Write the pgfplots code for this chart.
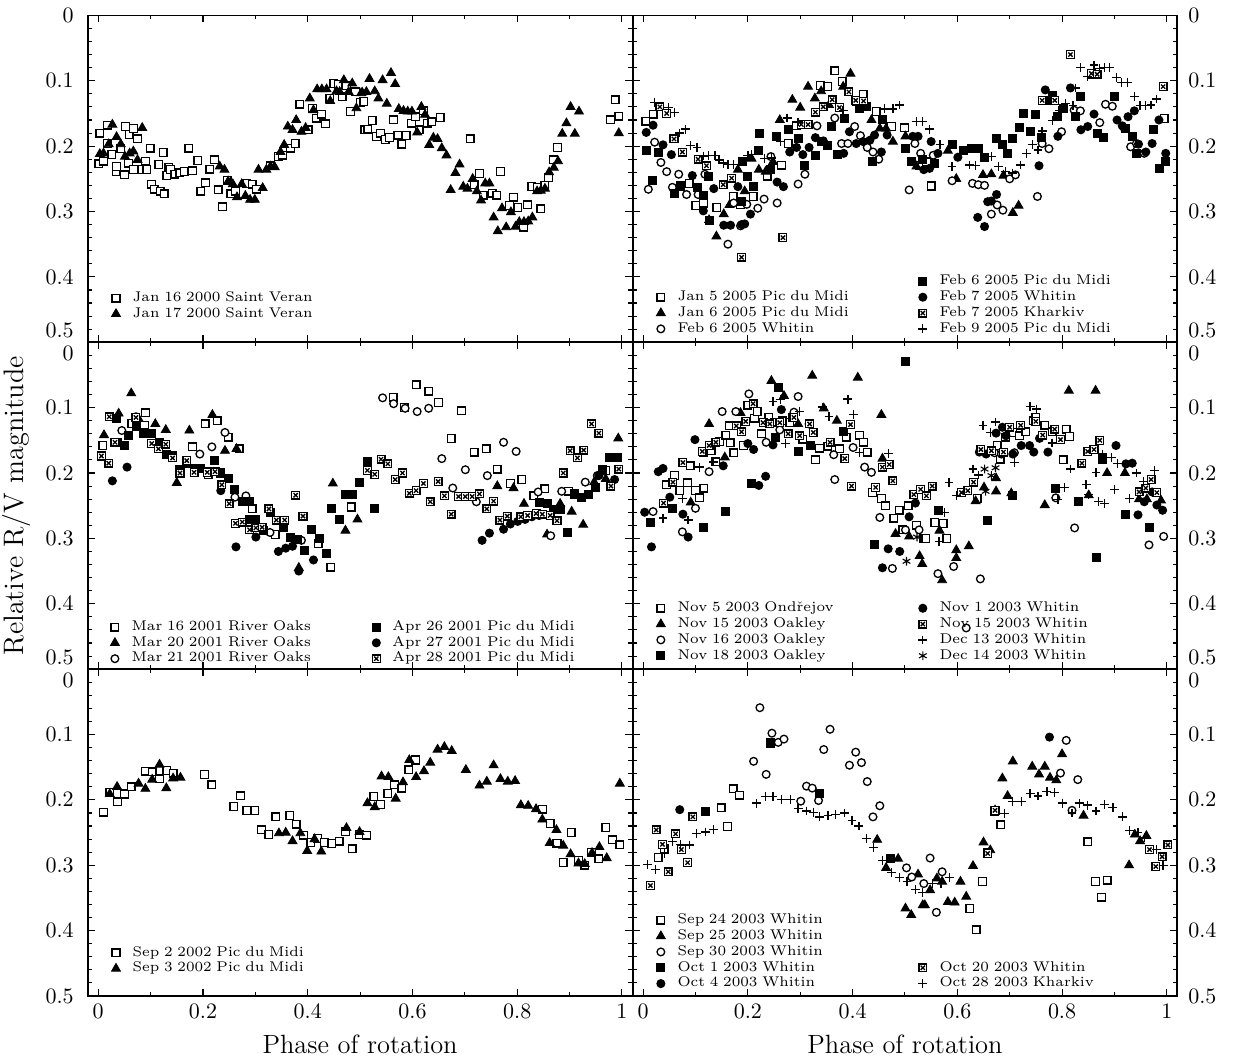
\documentclass[border=0pt]{standalone}
\usepackage{pgfplots}
\pgfplotsset{compat=1.18}
\pgfdeclareplotmark{boxx}{%
  \pgfpathrectangle{\pgfqpoint{-\pgfplotmarksize}{-\pgfplotmarksize}}{\pgfqpoint{2\pgfplotmarksize}{2\pgfplotmarksize}}%
  \pgfusepathqfillstroke
  \pgfpathmoveto{\pgfqpoint{-0.55\pgfplotmarksize}{-0.55\pgfplotmarksize}}%
  \pgfpathlineto{\pgfqpoint{0.55\pgfplotmarksize}{0.55\pgfplotmarksize}}%
  \pgfpathmoveto{\pgfqpoint{-0.55\pgfplotmarksize}{0.55\pgfplotmarksize}}%
  \pgfpathlineto{\pgfqpoint{0.55\pgfplotmarksize}{-0.55\pgfplotmarksize}}%
  \pgfusepathqstroke}
\pgfplotsset{
  mk/.style={only marks, black, mark size=1.75pt},
  sqo/.style={mk, mark=square*, mark options={fill=white, line width=0.6pt}},
  sqf/.style={mk, mark=square*, mark options={fill=black, line width=0.6pt}},
  tri/.style={mk, mark=triangle*, mark size=2.3pt, mark options={fill=black, line width=0.4pt}},
  cio/.style={mk, mark=*, mark options={fill=white, line width=0.6pt}},
  cif/.style={mk, mark=*, mark options={fill=black, line width=0.6pt}},
  bxx/.style={mk, mark=boxx, mark options={fill=white, line width=0.6pt}},
  pls/.style={mk, mark=+, mark size=2pt, mark options={line width=0.6pt}},
  ast/.style={mk, mark=asterisk, mark size=2pt, mark options={line width=0.5pt}},
  legend image code/.code={\draw[#1] plot coordinates {(0pt,0pt)};},
  panel/.style={scale only axis, width=247.6pt, height=148.6pt,
    xmin=-0.02, xmax=1.02, ymin=0, ymax=0.5, y dir=reverse,
    xtick={0,0.2,0.4,0.6,0.8,1}, minor x tick num=1,
    ytick={0,0.1,0.2,0.3,0.4,0.5}, minor y tick num=4,
    tick align=inside, major tick length=3.2pt, minor tick length=1.8pt,
    axis line style={line width=0.8pt},
    every tick/.style={black, line width=0.5pt},
    xticklabels={},
    legend cell align=left,
    legend style={draw=none, fill=none, inner sep=0pt, font=\fontsize{6.4}{7.2}\selectfont, anchor=south west, row sep=0.2pt,
      nodes={inner sep=1pt, text width=108.5pt, align=left, text height=4.0pt, text depth=1.0pt},
      /tikz/every odd column/.append style={column sep=4.6pt}}},
  leftp/.style={panel, yticklabel pos=left, yticklabel style={xshift=-2.9pt}},
  rightp/.style={panel, yticklabel pos=right, yticklabel style={xshift=1.5pt}},
  toprow/.style={yticklabels={0,0.1,0.2,0.3,0.4,{\raisebox{5.2pt}[\height][\depth]{0.5}}}},
  midrow/.style={yticklabels={{\raisebox{-5.2pt}[\height][\depth]{0}},0.1,0.2,0.3,0.4,{\raisebox{5.2pt}[\height][\depth]{0.5}}}},
  botrow/.style={yticklabels={{\raisebox{-5.2pt}[\height][\depth]{0}},0.1,0.2,0.3,0.4,0.5},
    xticklabels={0,0.2,0.4,0.6,0.8,1}, xlabel={Phase of rotation},
    xlabel style={font=\large, at={(axis description cs:0.5,-0.147)}, anchor=center}},
}
\begin{document}
\begin{tikzpicture}
\path[use as bounding box] (0,0) rectangle (561pt,480.5pt);
% ---------------- TOP LEFT
\begin{axis}[leftp, toprow, at={(39.9pt,324.9pt)}, anchor=south west,
  legend columns=1, legend style={at={(axis description cs:0.043,0.062)}}]
\addplot[sqo,forget plot] coordinates {(0.001,0.227)(0.003,0.180)(0.010,0.223)(0.018,0.168)(0.017,0.196)(0.026,0.213)(0.034,0.239)(0.035,0.231)(0.043,0.204)(0.050,0.244)(0.052,0.170)(0.058,0.226)(0.059,0.182)(0.067,0.236)(0.067,0.173)(0.075,0.189)(0.083,0.236)(0.090,0.223)(0.093,0.236)(0.099,0.203)(0.102,0.258)(0.107,0.266)(0.116,0.228)(0.118,0.269)(0.124,0.210)(0.126,0.273)(0.131,0.245)(0.135,0.232)(0.138,0.236)(0.146,0.243)(0.156,0.241)(0.164,0.239)(0.173,0.203)(0.180,0.238)(0.190,0.222)(0.196,0.269)(0.205,0.256)(0.213,0.235)(0.222,0.221)(0.229,0.267)(0.237,0.293)(0.246,0.252)(0.253,0.273)(0.262,0.269)(0.284,0.257)(0.294,0.258)(0.302,0.266)(0.328,0.230)(0.344,0.216)(0.352,0.214)(0.367,0.203)(0.376,0.196)(0.385,0.136)(0.401,0.175)(0.409,0.142)(0.416,0.157)(0.426,0.151)(0.434,0.166)(0.442,0.127)(0.450,0.104)(0.458,0.106)(0.466,0.124)(0.474,0.108)(0.482,0.147)(0.491,0.117)(0.500,0.133)(0.507,0.132)(0.509,0.175)(0.515,0.174)(0.523,0.161)(0.531,0.185)(0.539,0.180)(0.548,0.190)(0.556,0.187)(0.564,0.160)(0.572,0.183)(0.580,0.197)(0.588,0.184)(0.598,0.165)(0.606,0.155)(0.613,0.175)(0.621,0.146)(0.629,0.165)(0.637,0.163)(0.653,0.156)(0.710,0.189)(0.718,0.259)(0.728,0.242)(0.735,0.275)(0.752,0.272)(0.761,0.275)(0.768,0.239)(0.785,0.291)(0.793,0.278)(0.801,0.294)(0.812,0.324)(0.820,0.290)(0.828,0.262)(0.838,0.263)(0.845,0.296)(0.853,0.260)(0.860,0.248)(0.869,0.221)(0.877,0.202)(0.978,0.160)(0.987,0.129)(0.994,0.154)};
\addplot[tri,forget plot] coordinates {(0.003,0.212)(0.010,0.211)(0.020,0.197)(0.027,0.167)(0.035,0.186)(0.043,0.197)(0.051,0.216)(0.060,0.211)(0.067,0.208)(0.075,0.221)(0.084,0.172)(0.232,0.231)(0.241,0.236)(0.248,0.254)(0.257,0.258)(0.265,0.278)(0.274,0.258)(0.281,0.276)(0.290,0.282)(0.299,0.282)(0.306,0.236)(0.314,0.264)(0.321,0.236)(0.329,0.231)(0.337,0.232)(0.348,0.209)(0.355,0.198)(0.362,0.170)(0.371,0.175)(0.378,0.160)(0.388,0.178)(0.396,0.172)(0.404,0.127)(0.411,0.145)(0.418,0.113)(0.427,0.113)(0.436,0.113)(0.443,0.131)(0.455,0.116)(0.461,0.117)(0.469,0.099)(0.478,0.117)(0.485,0.104)(0.493,0.142)(0.502,0.119)(0.504,0.118)(0.512,0.117)(0.518,0.097)(0.528,0.116)(0.535,0.127)(0.543,0.099)(0.551,0.135)(0.559,0.088)(0.567,0.105)(0.574,0.143)(0.583,0.146)(0.591,0.147)(0.599,0.147)(0.609,0.179)(0.617,0.140)(0.624,0.152)(0.632,0.198)(0.640,0.187)(0.648,0.189)(0.656,0.203)(0.665,0.214)(0.673,0.267)(0.682,0.241)(0.690,0.228)(0.697,0.262)(0.705,0.265)(0.715,0.250)(0.723,0.269)(0.731,0.283)(0.739,0.257)(0.747,0.257)(0.755,0.309)(0.763,0.330)(0.771,0.295)(0.779,0.324)(0.788,0.301)(0.797,0.323)(0.804,0.316)(0.813,0.316)(0.821,0.315)(0.829,0.309)(0.838,0.269)(0.845,0.268)(0.853,0.265)(0.861,0.240)(0.870,0.233)(0.878,0.223)(0.886,0.181)(0.894,0.165)(0.902,0.140)(0.910,0.181)(0.918,0.147)(0.994,0.180)};
\addlegendimage{sqo}\addlegendentry{Jan 16 2000 Saint Veran}
\addlegendimage{tri}\addlegendentry{Jan 17 2000 Saint Veran}
\end{axis}
% ---------------- TOP RIGHT
\begin{axis}[rightp, toprow, at={(287.6pt,324.9pt)}, anchor=south west,
  legend columns=2, legend style={at={(axis description cs:0.043,0.016)}}]
\addplot[sqo,forget plot] coordinates {(0.005,0.162)(0.019,0.151)(0.088,0.257)(0.101,0.291)(0.115,0.287)(0.141,0.294)(0.172,0.277)(0.186,0.290)(0.210,0.277)(0.237,0.246)(0.264,0.229)(0.277,0.196)(0.293,0.169)(0.339,0.107)(0.353,0.109)(0.366,0.085)(0.380,0.101)(0.407,0.131)(0.420,0.121)(0.445,0.147)(0.474,0.170)(0.499,0.172)(0.528,0.229)(0.541,0.224)(0.550,0.261)(0.995,0.158)};
\addplot[tri,forget plot] coordinates {(0.126,0.313)(0.140,0.338)(0.154,0.304)(0.165,0.290)(0.181,0.236)(0.194,0.269)(0.207,0.219)(0.221,0.236)(0.234,0.239)(0.248,0.224)(0.261,0.160)(0.285,0.129)(0.300,0.141)(0.315,0.109)(0.328,0.127)(0.340,0.116)(0.355,0.137)(0.382,0.109)(0.396,0.089)(0.436,0.160)(0.452,0.173)(0.464,0.173)(0.477,0.193)(0.501,0.185)(0.522,0.231)(0.582,0.207)(0.598,0.250)(0.649,0.244)(0.665,0.243)(0.688,0.245)(0.706,0.302)(0.717,0.291)};
\addplot[cio,forget plot] coordinates {(0.010,0.266)(0.022,0.194)(0.034,0.225)(0.045,0.239)(0.056,0.263)(0.068,0.243)(0.083,0.274)(0.105,0.274)(0.118,0.243)(0.162,0.350)(0.173,0.287)(0.186,0.322)(0.198,0.289)(0.219,0.295)(0.231,0.281)(0.244,0.216)(0.256,0.287)(0.296,0.258)(0.309,0.243)(0.332,0.169)(0.366,0.157)(0.379,0.196)(0.391,0.196)(0.404,0.170)(0.415,0.184)(0.428,0.202)(0.439,0.209)(0.450,0.220)(0.508,0.267)(0.519,0.196)(0.530,0.211)(0.554,0.214)(0.590,0.253)(0.629,0.257)(0.640,0.259)(0.652,0.260)(0.665,0.304)(0.676,0.290)(0.687,0.298)(0.700,0.250)(0.711,0.244)(0.753,0.277)(0.762,0.196)(0.775,0.204)(0.799,0.178)(0.823,0.145)(0.835,0.146)(0.872,0.164)(0.883,0.136)(0.896,0.139)(0.919,0.173)(0.931,0.201)(0.942,0.196)(0.957,0.211)};
\addplot[sqf,forget plot] coordinates {(0.006,0.207)(0.018,0.253)(0.029,0.209)(0.060,0.273)(0.071,0.261)(0.103,0.264)(0.116,0.276)(0.124,0.246)(0.127,0.314)(0.188,0.284)(0.190,0.223)(0.200,0.246)(0.210,0.262)(0.221,0.207)(0.223,0.180)(0.244,0.236)(0.254,0.186)(0.277,0.174)(0.296,0.188)(0.309,0.229)(0.330,0.215)(0.340,0.193)(0.352,0.199)(0.359,0.170)(0.372,0.213)(0.385,0.157)(0.413,0.142)(0.427,0.139)(0.438,0.223)(0.458,0.160)(0.501,0.203)(0.512,0.224)(0.534,0.220)(0.557,0.227)(0.590,0.198)(0.611,0.207)(0.628,0.203)(0.641,0.203)(0.652,0.218)(0.675,0.189)(0.686,0.198)(0.695,0.212)(0.706,0.189)(0.718,0.172)(0.727,0.150)(0.740,0.177)(0.750,0.152)(0.760,0.187)(0.771,0.130)(0.781,0.123)(0.792,0.155)(0.802,0.142)(0.826,0.154)(0.835,0.124)(0.856,0.090)(0.868,0.180)(0.879,0.187)(0.900,0.124)(0.922,0.173)(0.934,0.185)(0.943,0.211)(0.975,0.175)(0.986,0.234)(0.998,0.224)};
\addplot[cif,forget plot] coordinates {(0.006,0.179)(0.019,0.168)(0.038,0.198)(0.054,0.213)(0.094,0.245)(0.115,0.299)(0.135,0.265)(0.154,0.321)(0.167,0.321)(0.181,0.262)(0.188,0.320)(0.194,0.319)(0.205,0.304)(0.256,0.255)(0.268,0.262)(0.280,0.209)(0.293,0.202)(0.305,0.213)(0.317,0.202)(0.329,0.187)(0.344,0.192)(0.383,0.211)(0.394,0.178)(0.407,0.196)(0.420,0.193)(0.433,0.191)(0.442,0.183)(0.455,0.209)(0.466,0.183)(0.515,0.185)(0.525,0.185)(0.536,0.236)(0.547,0.234)(0.550,0.193)(0.563,0.211)(0.601,0.217)(0.639,0.309)(0.652,0.323)(0.658,0.285)(0.665,0.284)(0.675,0.274)(0.756,0.230)(0.768,0.114)(0.792,0.185)(0.816,0.111)(0.836,0.175)(0.849,0.170)(0.861,0.151)(0.905,0.160)(0.915,0.169)(0.926,0.155)(0.938,0.146)(0.946,0.197)(0.960,0.209)(0.972,0.196)(0.985,0.160)(0.998,0.211)};
\addplot[bxx,forget plot] coordinates {(0.032,0.140)(0.045,0.150)(0.059,0.189)(0.075,0.209)(0.105,0.220)(0.121,0.230)(0.153,0.259)(0.169,0.249)(0.188,0.370)(0.267,0.340)(0.302,0.167)(0.315,0.167)(0.329,0.148)(0.344,0.140)(0.361,0.129)(0.375,0.141)(0.393,0.117)(0.406,0.130)(0.421,0.131)(0.762,0.130)(0.786,0.130)(0.816,0.060)(0.856,0.089)(0.867,0.090)(0.993,0.109)};
\addplot[pls,forget plot] coordinates {(0.022,0.133)(0.048,0.141)(0.060,0.149)(0.069,0.180)(0.081,0.174)(0.090,0.199)(0.103,0.202)(0.115,0.215)(0.125,0.214)(0.137,0.214)(0.145,0.221)(0.154,0.226)(0.162,0.228)(0.173,0.228)(0.200,0.214)(0.207,0.213)(0.232,0.219)(0.245,0.218)(0.262,0.193)(0.275,0.157)(0.296,0.163)(0.382,0.145)(0.461,0.143)(0.477,0.143)(0.490,0.137)(0.522,0.162)(0.533,0.162)(0.547,0.174)(0.567,0.198)(0.590,0.231)(0.623,0.229)(0.635,0.230)(0.665,0.216)(0.678,0.231)(0.692,0.239)(0.706,0.241)(0.720,0.229)(0.732,0.211)(0.743,0.198)(0.754,0.206)(0.762,0.177)(0.782,0.161)(0.794,0.146)(0.807,0.135)(0.821,0.138)(0.826,0.111)(0.835,0.080)(0.848,0.094)(0.861,0.076)(0.872,0.081)(0.881,0.080)(0.891,0.080)(0.904,0.095)(0.914,0.103)(0.925,0.103)(0.938,0.124)(0.949,0.138)(0.959,0.138)(0.970,0.137)(0.980,0.128)};
\addlegendimage{empty legend}\addlegendentry{}
\addlegendimage{sqf}\addlegendentry{Feb 6 2005 Pic du Midi}
\addlegendimage{sqo}\addlegendentry{Jan 5 2005 Pic du Midi}
\addlegendimage{cif}\addlegendentry{Feb 7 2005 Whitin}
\addlegendimage{tri}\addlegendentry{Jan 6 2005 Pic du Midi}
\addlegendimage{bxx}\addlegendentry{Feb 7 2005 Kharkiv}
\addlegendimage{cio}\addlegendentry{Feb 6 2005 Whitin}
\addlegendimage{pls}\addlegendentry{Feb 9 2005 Pic du Midi}
\end{axis}
% ---------------- MIDDLE LEFT
\begin{axis}[leftp, midrow, at={(39.9pt,176.3pt)}, anchor=south west,
  ylabel={Relative R/V magnitude}, ylabel style={font=\fontsize{12.8}{15}\selectfont, at={(axis description cs:-0.130,0.5)}, anchor=center},
  legend columns=2, legend style={at={(axis description cs:0.041,0.007)}}]
\addplot[sqo,forget plot] coordinates {(0.009,0.158)(0.036,0.153)(0.064,0.124)(0.088,0.127)(0.090,0.108)(0.158,0.200)(0.180,0.160)(0.204,0.125)(0.210,0.203)(0.227,0.120)(0.248,0.145)(0.269,0.163)(0.294,0.255)(0.338,0.294)(0.420,0.308)(0.444,0.344)(0.483,0.252)(0.563,0.084)(0.584,0.100)(0.607,0.065)(0.631,0.075)(0.650,0.092)(0.674,0.147)(0.694,0.105)(0.718,0.168)(0.741,0.163)(0.762,0.194)(0.787,0.216)(0.809,0.210)(0.832,0.235)(0.853,0.224)(0.898,0.228)(0.909,0.232)(0.923,0.238)(0.969,0.196)(0.993,0.194)};
\addplot[tri,forget plot] coordinates {(0.011,0.142)(0.039,0.109)(0.063,0.078)(0.077,0.117)(0.109,0.125)(0.129,0.134)(0.150,0.215)(0.174,0.135)(0.218,0.111)(0.242,0.166)(0.264,0.163)(0.383,0.345)(0.448,0.216)(0.472,0.288)(0.495,0.271)(0.762,0.220)(0.793,0.223)(0.813,0.247)(0.857,0.294)(0.882,0.247)(0.904,0.259)(0.926,0.279)(0.947,0.214)(0.969,0.209)(0.993,0.147)};
\addplot[cio,forget plot] coordinates {(0.045,0.135)(0.072,0.114)(0.194,0.171)(0.217,0.160)(0.242,0.138)(0.261,0.237)(0.282,0.235)(0.328,0.291)(0.388,0.303)(0.543,0.085)(0.564,0.094)(0.586,0.101)(0.609,0.106)(0.631,0.101)(0.656,0.178)(0.677,0.223)(0.701,0.195)(0.722,0.244)(0.743,0.204)(0.774,0.153)(0.798,0.167)(0.840,0.229)(0.864,0.296)(0.885,0.228)(0.930,0.214)(0.953,0.204)};
\addplot[sqf,forget plot] coordinates {(0.034,0.116)(0.050,0.158)(0.058,0.143)(0.073,0.129)(0.087,0.140)(0.102,0.139)(0.117,0.153)(0.130,0.171)(0.142,0.173)(0.156,0.194)(0.169,0.186)(0.184,0.193)(0.196,0.193)(0.208,0.198)(0.222,0.181)(0.234,0.200)(0.248,0.208)(0.261,0.225)(0.275,0.243)(0.288,0.243)(0.288,0.271)(0.301,0.271)(0.315,0.288)(0.329,0.261)(0.340,0.272)(0.354,0.284)(0.367,0.298)(0.380,0.302)(0.394,0.318)(0.407,0.287)(0.422,0.300)(0.435,0.323)(0.446,0.255)(0.461,0.271)(0.472,0.233)(0.486,0.233)(0.499,0.214)(0.514,0.183)(0.528,0.255)(0.842,0.245)(0.857,0.247)(0.870,0.256)(0.882,0.256)(0.896,0.291)(0.909,0.233)(0.923,0.237)(0.937,0.233)(0.950,0.222)(0.963,0.195)(0.977,0.176)(0.991,0.176)};
\addplot[cif,forget plot] coordinates {(0.027,0.212)(0.055,0.191)(0.234,0.227)(0.263,0.313)(0.301,0.298)(0.344,0.320)(0.358,0.315)(0.371,0.312)(0.383,0.350)(0.411,0.333)(0.733,0.303)(0.747,0.292)(0.774,0.286)(0.787,0.278)(0.801,0.274)(0.815,0.271)(0.828,0.267)(0.842,0.265)(0.956,0.204)(0.986,0.210)};
\addplot[bxx,forget plot] coordinates {(0.006,0.174)(0.020,0.185)(0.021,0.114)(0.032,0.153)(0.072,0.115)(0.102,0.155)(0.115,0.163)(0.129,0.156)(0.142,0.177)(0.156,0.200)(0.169,0.181)(0.183,0.199)(0.208,0.199)(0.223,0.198)(0.236,0.218)(0.250,0.247)(0.262,0.277)(0.275,0.275)(0.289,0.287)(0.301,0.284)(0.313,0.283)(0.326,0.255)(0.340,0.272)(0.356,0.272)(0.377,0.234)(0.391,0.266)(0.514,0.196)(0.528,0.202)(0.540,0.179)(0.553,0.186)(0.567,0.210)(0.581,0.200)(0.594,0.231)(0.607,0.227)(0.621,0.216)(0.634,0.244)(0.649,0.213)(0.661,0.235)(0.674,0.263)(0.688,0.236)(0.701,0.236)(0.714,0.236)(0.728,0.232)(0.742,0.255)(0.755,0.243)(0.767,0.272)(0.781,0.266)(0.807,0.267)(0.820,0.265)(0.836,0.262)(0.848,0.263)(0.863,0.265)(0.876,0.273)(0.888,0.200)(0.901,0.166)(0.915,0.177)(0.927,0.165)(0.942,0.125)(0.956,0.139)(0.979,0.220)(0.994,0.194)};
\addlegendimage{sqo}\addlegendentry{Mar 16 2001 River Oaks}
\addlegendimage{sqf}\addlegendentry{Apr 26 2001 Pic du Midi}
\addlegendimage{tri}\addlegendentry{Mar 20 2001 River Oaks}
\addlegendimage{cif}\addlegendentry{Apr 27 2001 Pic du Midi}
\addlegendimage{cio}\addlegendentry{Mar 21 2001 River Oaks}
\addlegendimage{bxx}\addlegendentry{Apr 28 2001 Pic du Midi}
\end{axis}
% ---------------- MIDDLE RIGHT
\begin{axis}[rightp, midrow, at={(287.6pt,176.3pt)}, anchor=south west,
  legend columns=2, legend style={at={(axis description cs:0.043,0.016)}}]
\addplot[sqo,forget plot] coordinates {(0.045,0.218)(0.060,0.204)(0.070,0.227)(0.085,0.215)(0.100,0.227)(0.108,0.238)(0.116,0.223)(0.090,0.189)(0.115,0.168)(0.130,0.166)(0.139,0.183)(0.146,0.152)(0.158,0.142)(0.166,0.154)(0.173,0.169)(0.165,0.128)(0.192,0.158)(0.200,0.096)(0.213,0.116)(0.218,0.106)(0.226,0.140)(0.240,0.115)(0.251,0.122)(0.267,0.120)(0.280,0.123)(0.286,0.115)(0.305,0.148)(0.329,0.180)(0.337,0.162)(0.353,0.159)(0.375,0.163)(0.388,0.145)(0.413,0.142)(0.421,0.153)(0.428,0.168)(0.438,0.230)(0.455,0.239)(0.463,0.250)(0.479,0.269)(0.489,0.257)(0.506,0.250)(0.496,0.287)(0.522,0.280)(0.536,0.300)(0.540,0.300)(0.557,0.276)(0.573,0.277)(0.580,0.300)(0.638,0.239)(0.676,0.158)(0.682,0.179)(0.692,0.145)(0.706,0.138)(0.719,0.143)(0.731,0.137)(0.745,0.120)(0.750,0.115)(0.767,0.127)(0.781,0.137)(0.802,0.180)(0.808,0.133)(0.814,0.144)};
\addplot[tri,forget plot] coordinates {(0.091,0.245)(0.126,0.125)(0.156,0.176)(0.186,0.108)(0.245,0.059)(0.269,0.082)(0.296,0.125)(0.323,0.051)(0.345,0.101)(0.370,0.120)(0.410,0.054)(0.455,0.111)(0.457,0.178)(0.482,0.293)(0.508,0.297)(0.528,0.327)(0.533,0.339)(0.566,0.288)(0.571,0.364)(0.598,0.318)(0.598,0.330)(0.622,0.312)(0.635,0.243)(0.651,0.222)(0.674,0.208)(0.674,0.228)(0.703,0.231)(0.767,0.249)(0.813,0.074)(0.864,0.074)(0.851,0.234)(0.886,0.200)(0.920,0.200)(0.947,0.240)(0.962,0.240)(0.989,0.242)};
\addplot[cio,forget plot] coordinates {(0.019,0.259)(0.075,0.290)(0.100,0.254)(0.126,0.198)(0.151,0.106)(0.177,0.106)(0.202,0.079)(0.235,0.153)(0.261,0.134)(0.288,0.107)(0.296,0.083)(0.317,0.125)(0.364,0.172)(0.366,0.210)(0.401,0.161)(0.423,0.191)(0.436,0.199)(0.452,0.268)(0.476,0.346)(0.501,0.287)(0.527,0.287)(0.563,0.354)(0.593,0.343)(0.617,0.437)(0.644,0.362)(0.671,0.169)(0.684,0.171)(0.709,0.169)(0.788,0.238)(0.824,0.284)(0.966,0.310)(0.994,0.297)};
\addplot[sqf,forget plot] coordinates {(0.015,0.275)(0.057,0.254)(0.116,0.283)(0.158,0.259)(0.207,0.216)(0.259,0.069)(0.253,0.145)(0.296,0.167)(0.320,0.158)(0.382,0.136)(0.442,0.309)(0.501,0.029)(0.565,0.257)(0.657,0.272)(0.705,0.235)(0.788,0.224)(0.832,0.244)(0.865,0.329)(0.878,0.180)(0.921,0.263)(0.967,0.284)};
\addplot[cif,forget plot] coordinates {(0.003,0.260)(0.016,0.313)(0.029,0.198)(0.038,0.193)(0.051,0.237)(0.076,0.263)(0.086,0.298)(0.099,0.149)(0.153,0.189)(0.200,0.155)(0.211,0.164)(0.221,0.219)(0.234,0.205)(0.248,0.157)(0.264,0.103)(0.321,0.158)(0.457,0.345)(0.468,0.316)(0.490,0.320)(0.508,0.267)(0.520,0.246)(0.642,0.168)(0.655,0.171)(0.674,0.139)(0.686,0.130)(0.693,0.143)(0.706,0.171)(0.722,0.158)(0.738,0.158)(0.746,0.168)(0.757,0.147)(0.773,0.168)(0.903,0.158)(0.922,0.186)(0.934,0.185)(0.945,0.264)(0.957,0.244)(0.972,0.229)(0.981,0.249)(0.992,0.257)};
\addplot[bxx,forget plot] coordinates {(0.039,0.246)(0.057,0.214)(0.076,0.184)(0.113,0.167)(0.126,0.158)(0.139,0.153)(0.178,0.128)(0.188,0.137)(0.196,0.121)(0.210,0.094)(0.229,0.123)(0.242,0.125)(0.261,0.123)(0.277,0.140)(0.288,0.115)(0.299,0.143)(0.318,0.125)(0.325,0.138)(0.357,0.153)(0.385,0.178)(0.396,0.126)(0.398,0.220)(0.444,0.222)(0.457,0.191)(0.470,0.187)(0.477,0.212)(0.517,0.233)(0.530,0.225)(0.541,0.235)(0.552,0.220)(0.608,0.230)(0.620,0.227)(0.631,0.214)(0.645,0.164)(0.665,0.166)(0.688,0.168)(0.700,0.130)(0.721,0.127)(0.750,0.121)(0.763,0.142)(0.786,0.133)(0.797,0.149)(0.838,0.185)(0.849,0.167)(0.861,0.164)(0.872,0.150)(0.947,0.229)(0.960,0.223)(0.970,0.210)(0.981,0.230)};
\addplot[pls,forget plot] coordinates {(0.038,0.269)(0.075,0.239)(0.086,0.272)(0.108,0.191)(0.134,0.183)(0.248,0.091)(0.262,0.088)(0.272,0.155)(0.298,0.106)(0.342,0.099)(0.355,0.114)(0.391,0.087)(0.402,0.111)(0.413,0.169)(0.468,0.170)(0.565,0.305)(0.576,0.260)(0.584,0.215)(0.598,0.234)(0.630,0.194)(0.640,0.203)(0.649,0.127)(0.663,0.138)(0.673,0.122)(0.709,0.184)(0.739,0.098)(0.751,0.102)(0.781,0.154)(0.792,0.241)(0.805,0.222)(0.816,0.194)(0.846,0.218)(0.851,0.233)(0.865,0.199)(0.869,0.244)(0.877,0.171)(0.881,0.247)(0.894,0.176)(0.900,0.225)(0.906,0.185)(0.929,0.239)(0.942,0.200)(0.956,0.213)(0.976,0.196)};
\addplot[ast,forget plot] coordinates {(0.503,0.335)(0.523,0.298)(0.652,0.194)(0.654,0.228)(0.665,0.204)(0.673,0.192)};
\addlegendimage{sqo}\addlegendentry{Nov 5 2003 Ondřejov}
\addlegendimage{cif}\addlegendentry{Nov 1 2003 Whitin}
\addlegendimage{tri}\addlegendentry{Nov 15 2003 Oakley}
\addlegendimage{bxx}\addlegendentry{Nov 15 2003 Whitin}
\addlegendimage{cio}\addlegendentry{Nov 16 2003 Oakley}
\addlegendimage{pls}\addlegendentry{Dec 13 2003 Whitin}
\addlegendimage{sqf}\addlegendentry{Nov 18 2003 Oakley}
\addlegendimage{ast}\addlegendentry{Dec 14 2003 Whitin}
\end{axis}
% ---------------- BOTTOM LEFT
\begin{axis}[leftp, botrow, at={(39.9pt,27.7pt)}, anchor=south west,
  legend columns=1, legend style={at={(axis description cs:0.043,0.059)}}]
\addplot[sqo,forget plot] coordinates {(0.010,0.219)(0.022,0.188)(0.037,0.203)(0.050,0.191)(0.063,0.180)(0.090,0.156)(0.103,0.157)(0.117,0.168)(0.131,0.155)(0.143,0.159)(0.203,0.161)(0.217,0.177)(0.259,0.210)(0.272,0.194)(0.284,0.216)(0.299,0.216)(0.312,0.246)(0.326,0.253)(0.339,0.226)(0.366,0.224)(0.378,0.237)(0.392,0.254)(0.406,0.265)(0.419,0.259)(0.432,0.265)(0.446,0.267)(0.460,0.263)(0.472,0.249)(0.485,0.275)(0.499,0.253)(0.512,0.254)(0.526,0.195)(0.539,0.207)(0.553,0.190)(0.566,0.177)(0.580,0.182)(0.593,0.154)(0.606,0.139)(0.848,0.214)(0.863,0.236)(0.876,0.266)(0.888,0.296)(0.903,0.250)(0.917,0.292)(0.929,0.300)(0.942,0.280)(0.956,0.290)(0.969,0.242)(0.982,0.261)(0.996,0.269)};
\addplot[tri,forget plot] coordinates {(0.022,0.191)(0.036,0.180)(0.077,0.175)(0.090,0.183)(0.103,0.169)(0.117,0.146)(0.130,0.182)(0.143,0.167)(0.157,0.166)(0.345,0.251)(0.358,0.250)(0.371,0.263)(0.386,0.251)(0.399,0.278)(0.413,0.260)(0.426,0.279)(0.474,0.243)(0.499,0.249)(0.514,0.205)(0.528,0.211)(0.541,0.164)(0.554,0.165)(0.568,0.198)(0.582,0.173)(0.594,0.139)(0.607,0.165)(0.622,0.156)(0.634,0.143)(0.648,0.123)(0.661,0.119)(0.675,0.125)(0.702,0.154)(0.728,0.178)(0.742,0.172)(0.755,0.147)(0.768,0.168)(0.782,0.172)(0.796,0.171)(0.807,0.208)(0.821,0.209)(0.836,0.214)(0.848,0.230)(0.862,0.266)(0.875,0.246)(0.888,0.270)(0.902,0.283)(0.917,0.297)(0.929,0.298)(0.943,0.281)(0.957,0.272)(0.971,0.289)(0.996,0.175)};
\addlegendimage{sqo}\addlegendentry{Sep 2 2002 Pic du Midi}
\addlegendimage{tri}\addlegendentry{Sep 3 2002 Pic du Midi}
\end{axis}
% ---------------- BOTTOM RIGHT
\begin{axis}[rightp, botrow, at={(287.6pt,27.7pt)}, anchor=south west,
  legend columns=2, legend style={at={(axis description cs:0.043,0.013)}}]
\addplot[sqo,forget plot] coordinates {(0.029,0.288)(0.040,0.275)(0.149,0.212)(0.161,0.241)(0.172,0.183)(0.184,0.193)(0.624,0.366)(0.636,0.399)(0.648,0.325)(0.658,0.281)(0.671,0.217)(0.683,0.238)(0.849,0.264)(0.864,0.325)(0.875,0.349)(0.886,0.323)};
\addplot[tri,forget plot] coordinates {(0.447,0.261)(0.464,0.304)(0.487,0.290)(0.501,0.366)(0.512,0.376)(0.525,0.314)(0.534,0.361)(0.538,0.361)(0.548,0.338)(0.561,0.320)(0.571,0.325)(0.582,0.356)(0.595,0.357)(0.606,0.325)(0.617,0.348)(0.630,0.301)(0.650,0.265)(0.663,0.277)(0.672,0.216)(0.686,0.167)(0.696,0.194)(0.706,0.141)(0.743,0.149)(0.756,0.161)(0.767,0.149)(0.777,0.166)(0.789,0.170)(0.800,0.130)(0.841,0.224)(0.928,0.300)(0.939,0.253)(0.949,0.263)(0.961,0.255)};
\addplot[cio,forget plot] coordinates {(0.211,0.141)(0.223,0.059)(0.235,0.161)(0.246,0.098)(0.258,0.112)(0.269,0.107)(0.301,0.202)(0.312,0.179)(0.323,0.182)(0.335,0.201)(0.345,0.123)(0.357,0.092)(0.394,0.147)(0.406,0.127)(0.417,0.143)(0.428,0.172)(0.439,0.226)(0.452,0.209)(0.503,0.304)(0.513,0.318)(0.536,0.328)(0.548,0.289)(0.560,0.372)(0.571,0.310)(0.797,0.159)(0.808,0.109)(0.819,0.216)(0.830,0.169)};
\addplot[sqf,forget plot] coordinates {(0.119,0.218)(0.244,0.113)(0.337,0.190)(0.473,0.290)};
\addplot[cif,forget plot] coordinates {(0.070,0.215)(0.776,0.104)};
\addplot[bxx,forget plot] coordinates {(0.014,0.331)(0.025,0.246)(0.037,0.268)(0.048,0.310)(0.062,0.252)(0.073,0.276)(0.085,0.296)(0.095,0.226)(0.658,0.282)(0.672,0.216)(0.967,0.276)(0.979,0.302)(0.991,0.287)(1.002,0.269)};
\addplot[pls,forget plot] coordinates {(0.008,0.299)(0.024,0.306)(0.041,0.282)(0.056,0.264)(0.072,0.268)(0.088,0.269)(0.102,0.251)(0.119,0.249)(0.135,0.245)(0.216,0.205)(0.234,0.195)(0.248,0.195)(0.264,0.199)(0.281,0.199)(0.296,0.213)(0.312,0.217)(0.326,0.219)(0.337,0.226)(0.353,0.224)(0.368,0.222)(0.384,0.220)(0.399,0.232)(0.412,0.240)(0.426,0.259)(0.440,0.273)(0.457,0.293)(0.474,0.311)(0.489,0.319)(0.504,0.325)(0.520,0.337)(0.534,0.342)(0.553,0.328)(0.569,0.328)(0.585,0.319)(0.690,0.221)(0.706,0.203)(0.722,0.202)(0.739,0.190)(0.754,0.194)(0.771,0.187)(0.786,0.189)(0.801,0.205)(0.819,0.220)(0.833,0.205)(0.849,0.208)(0.865,0.217)(0.881,0.207)(0.897,0.212)(0.915,0.226)(0.929,0.247)(0.945,0.250)(0.958,0.258)(0.980,0.276)(0.993,0.300)};
\addlegendimage{sqo}\addlegendentry{Sep 24 2003 Whitin}
\addlegendimage{empty legend}\addlegendentry{}
\addlegendimage{tri}\addlegendentry{Sep 25 2003 Whitin}
\addlegendimage{empty legend}\addlegendentry{}
\addlegendimage{cio}\addlegendentry{Sep 30 2003 Whitin}
\addlegendimage{empty legend}\addlegendentry{}
\addlegendimage{sqf}\addlegendentry{Oct 1 2003 Whitin}
\addlegendimage{bxx}\addlegendentry{Oct 20 2003 Whitin}
\addlegendimage{cif}\addlegendentry{Oct 4 2003 Whitin}
\addlegendimage{pls}\addlegendentry{Oct 28 2003 Kharkiv}
\end{axis}
\end{tikzpicture}
\end{document}
